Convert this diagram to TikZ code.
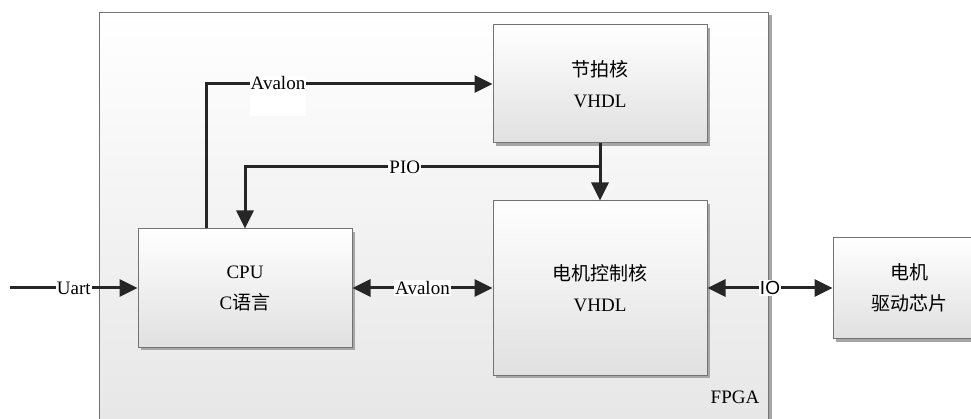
\documentclass[tikz,border=0pt]{standalone}
\usepackage{fontspec}
\setmainfont{Liberation Serif}
\setsansfont{Liberation Sans}
\newfontfamily\cjk{Noto Sans CJK SC}
\usetikzlibrary{arrows.meta,positioning,shadows}

\begin{document}
\begin{tikzpicture}[
  x=1pt, y=-1pt,
  >={Triangle[length=18pt,width=17pt]},
  font=\rmfamily\fontsize{19}{31}\selectfont,
  block/.style={draw=black!55, line width=1pt, align=center,
              top color=white, bottom color=black!12,
              drop shadow={shadow xshift=3pt, shadow yshift=-3pt,
                           fill=black!35, opacity=1}},
  arr/.style={->, line width=3pt, draw=black!85},
  biarr/.style={<->, line width=3pt, draw=black!85},
  lbl/.style={fill=white, inner sep=1pt, text=black},
]
\clip (0,0) rectangle (971,419);
\fill[white] (0,0) rectangle (971,419);

% FPGA region
\node[block, minimum width=669pt, minimum height=430pt, anchor=north west,
      top color=white, bottom color=black!10] (fpga) at (99,12) {};
\node (fpgalbl) at (735,397) {FPGA};

% blocks
\node[block, minimum width=214pt, minimum height=118pt] (tempo) at (600,84) {{\cjk 节拍核}\\VHDL};
\node[block, minimum width=214pt, minimum height=118pt] (cpu) at (245,288) {CPU\\C{\cjk 语言}};
\node[block, minimum width=214pt, minimum height=174pt] (motor) at (600,288) {{\cjk 电机控制核}\\VHDL};
\node[block, minimum width=152pt, minimum height=101pt] (driver) at (909,288) {{\cjk 电机}\\{\cjk 驱动芯片}};

\coordinate (uartin) at (10,288);
\coordinate (piojoin) at (600,167);

% connections
\draw[arr] (uartin) -- node[lbl] {Uart} (cpu);
\draw[arr] ([xshift=69pt]cpu.north west) |- node[pos=0.625, lbl, anchor=base,
      yshift=-6pt, text depth=25pt] {Avalon} (tempo.west);
\draw[arr] (tempo) -- (motor);
\draw[arr] (piojoin) -| node[pos=0.275, lbl] {PIO} (cpu.north);
\draw[biarr] (cpu) -- node[lbl] {Avalon} (motor);
\draw[biarr] (motor) -- node[lbl, font=\fontsize{19}{31}\sffamily] {IO} (driver);

\end{tikzpicture}
\end{document}
